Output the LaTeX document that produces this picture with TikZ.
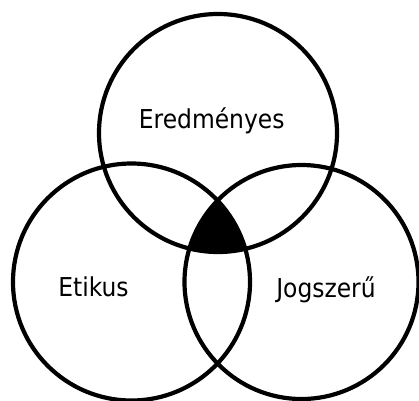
\documentclass[tikz,border=0pt]{standalone}
\usepackage{fontspec}
\setmainfont{DejaVu Sans Condensed}
\begin{document}
\begin{tikzpicture}[x=1pt,y=-1pt,
  ring/.style={draw=black,line width=4.2pt},
  lbl/.style={anchor=base,inner sep=0pt,font=\fontsize{26}{30}\selectfont}]
\useasboundingbox (0,0) rectangle (419,400);
\coordinate (ct) at (218,133);
\coordinate (cl) at (131.5,282);
\coordinate (cr) at (301.5,282);
\begin{scope}
  \clip (ct) circle (119);
  \clip (cl) circle (118.5);
  \fill[black] (cr) circle (117);
\end{scope}
\draw[ring] (ct) circle (119);
\draw[ring] (cl) circle (118.5);
\draw[ring] (cr) circle (117);
\node[lbl] (e) at (211.7,128.5) {Eredményes};
\node[lbl] (t) at (93.5,296.5) {Etikus};
\node[lbl] (j) at (326,297) {Jogszerű};
\end{tikzpicture}
\end{document}
